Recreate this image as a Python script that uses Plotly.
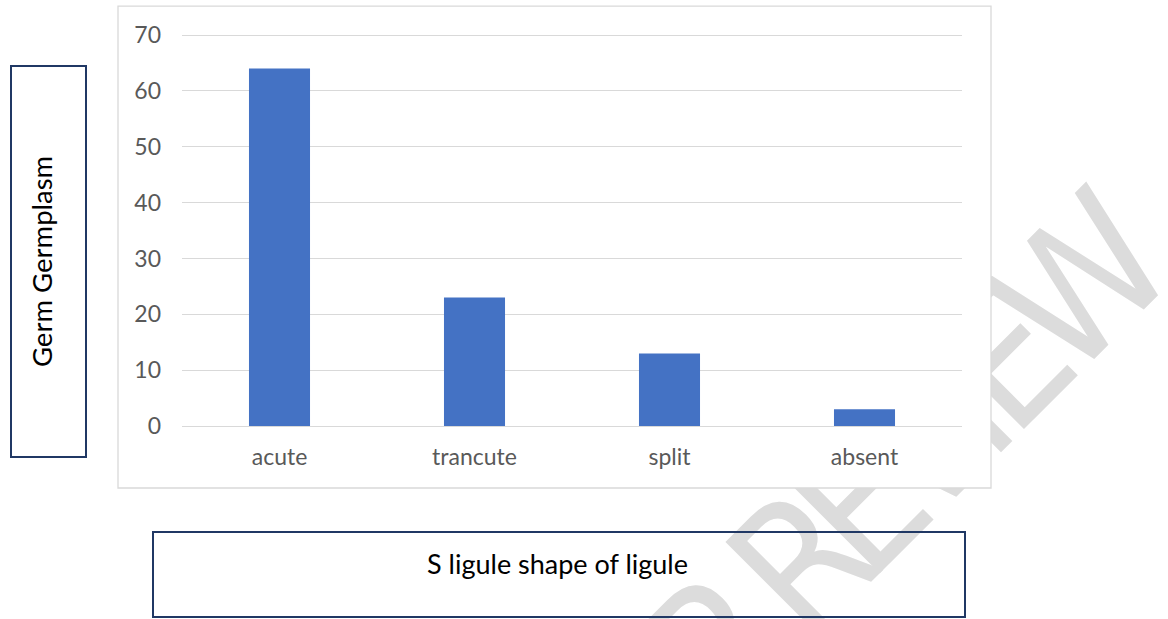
import math
import plotly.graph_objects as go

# ---- data ----
categories = ["acute", "trancute", "split", "absent"]
values = [64, 23, 13, 3]
y_ticks = [0, 10, 20, 30, 40, 50, 60, 70]
x_title = "S ligule shape of ligule"
y_title = "Germ Germplasm"
watermark = "UNDER REVIEW"

W, H = 1168, 619
PLOT_L, PLOT_R, PLOT_B = 182, 962, 426          # pixels
Y_MAX = 70.2
UNIT = (426 - 35) / 70.0                          # px per value unit
PLOT_T = PLOT_B - UNIT * Y_MAX
ML, MR = PLOT_L, W - PLOT_R
MT, MB = PLOT_T, H - PLOT_B
PW, PH = PLOT_R - PLOT_L, PLOT_B - PLOT_T

def px(x):
    return (x - PLOT_L) / PW

def py(y):
    return (PLOT_B - y) / PH

BAR = "#4472C4"
GRID = "#D9D9D9"
TICK = "#595959"
NAVY = "#203864"
FONT = "Lato"
WM_FONT = "Liberation Sans Narrow, Arial Narrow, DejaVu Sans Condensed, sans-serif"

fig = go.Figure(go.Bar(x=categories, y=values, marker=dict(color=BAR, line=dict(width=0)),
                       hoverinfo="x+y"))

shapes = []
# watermark letters along a 45-degree diagonal (s = along text, d = across text)
wm_s = [-330, -232, -134, -40, 52, None, 170, 252, 334, 396, 456, 565]
WM_D = 952
r2 = math.sqrt(2)
for ch, s in zip(watermark, wm_s):
    if s is None:
        continue
    cx, cy = (WM_D + s) / r2, (WM_D - s) / r2
    shapes.append(dict(type="rect", xref="paper", yref="paper", layer="below",
                       x0=px(cx) - 0.001, x1=px(cx) + 0.001, y0=py(cy) - 0.001, y1=py(cy) + 0.001,
                       line=dict(width=0), fillcolor="rgba(0,0,0,0)",
                       label=dict(text=ch, textangle=-45, textposition="middle center",
                                  font=dict(family=WM_FONT, size=180, color="#DCDCDC"))))
# white chart box covering the watermark
shapes.append(dict(type="rect", xref="paper", yref="paper", layer="below",
                   x0=px(118), x1=px(991), y0=py(488), y1=py(6),
                   line=dict(color=GRID, width=1.3), fillcolor="white"))
# y title box
shapes.append(dict(type="rect", xref="paper", yref="paper", layer="above",
                   x0=px(11), x1=px(86), y0=py(457), y1=py(66),
                   line=dict(color=NAVY, width=2), fillcolor="rgba(0,0,0,0)"))
# x title box
shapes.append(dict(type="rect", xref="paper", yref="paper", layer="above",
                   x0=px(153), x1=px(965), y0=py(617), y1=py(532),
                   line=dict(color=NAVY, width=2), fillcolor="rgba(0,0,0,0)"))

annotations = [
    dict(text=x_title, xref="paper", yref="paper", x=px(557), y=py(564),
         xanchor="center", yanchor="middle", showarrow=False,
         font=dict(family=FONT, size=27, color="black")),
    dict(text=y_title, xref="paper", yref="paper", x=px(41), y=py(262),
         xanchor="center", yanchor="middle", showarrow=False, textangle=-90,
         font=dict(family=FONT, size=27.5, color="black")),
]

fig.update_layout(
    width=W, height=H,
    margin=dict(l=ML, r=MR, t=MT, b=MB, pad=0),
    paper_bgcolor="white", plot_bgcolor="rgba(0,0,0,0)",
    bargap=0.687,
    showlegend=False,
    shapes=shapes,
    annotations=annotations,
    font=dict(family=FONT, color=TICK),
)
fig.update_xaxes(showgrid=False, showline=False, zeroline=False, ticks="",
                 tickfont=dict(family=FONT, size=23, color=TICK), ticklabelstandoff=15)
fig.update_yaxes(range=[0, Y_MAX], tickvals=y_ticks, showgrid=True, gridcolor=GRID, gridwidth=1.3,
                 zeroline=True, zerolinecolor=GRID, zerolinewidth=1.3, showline=False, ticks="",
                 tickfont=dict(family=FONT, size=23, color=TICK), ticklabelstandoff=20)

# remove the default 8px page margin so the figure sits at the window's top-left corner
fig.write_html("out.html", config={"displayModeBar": False},
               post_script="document.body.style.margin='0px';")
